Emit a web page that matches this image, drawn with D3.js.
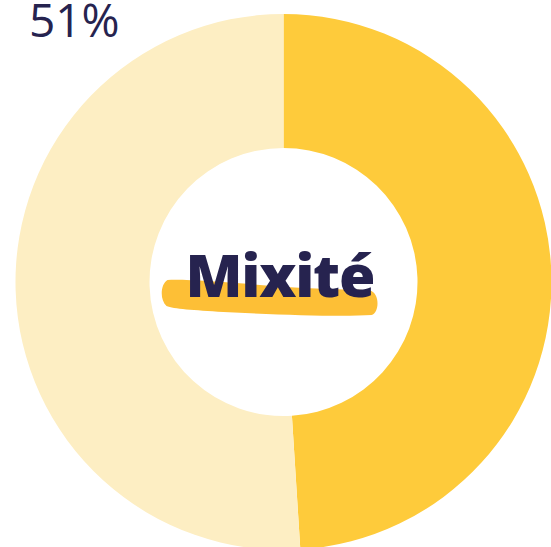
<!DOCTYPE html>
<html>
<head>
<meta charset="utf-8">
<script src="https://cdn.jsdelivr.net/npm/d3@7"></script>
<style>
  html, body { margin: 0; padding: 0; background: #fff; }
  svg { display: block; }
</style>
</head>
<body>
<svg width="551" height="547"></svg>
<script>
// mixité share (dark slice first, clockwise from top)
var categories = ["Hommes", "Femmes"];
var values = [49, 51];
var colors = ["#FECB3B", "#FDEEC3"];
var label = "51%";
var title = "Mixité";

var svg = d3.select("svg"),
    width = +svg.attr("width"),
    height = +svg.attr("height");

var cx = 283.5, cy = 282,
    outerR = 268, innerR = 134;

var pie = d3.pie().sort(null).value(function(d) { return d; });
var arc = d3.arc().innerRadius(innerR).outerRadius(outerR);

var g = svg.append("g")
    .attr("transform", "translate(" + cx + "," + cy + ")");

g.selectAll("path")
    .data(pie(values))
    .enter().append("path")
      .attr("d", arc)
      .attr("fill", function(d, i) { return colors[i]; });

// percentage label top-left
svg.append("text")
    .attr("x", 29)
    .attr("y", 37)
    .attr("font-family", "Open Sans")
    .attr("font-size", 46)
    .attr("fill", "#26234F")
    .text(label);

// brush stroke behind the title
g.append("path")
    .attr("fill", "#FDBF36")
    .attr("d", "M-116,-2 C-90,-3 -40,2 20,6 C55,8 80,7 88,9 C96,13 96,30 88,33 C60,35 0,33 -60,30 C-90,28 -110,27 -117,24 C-124,18 -123,2 -116,-2 Z");

g.append("text")
    .attr("x", -3)
    .attr("y", 15)
    .attr("text-anchor", "middle")
    .attr("font-family", "Open Sans")
    .attr("font-weight", 800)
    .attr("font-size", 59)
    .attr("textLength", 190)
    .attr("fill", "#26234F")
    .text(title);
</script>
</body>
</html>
